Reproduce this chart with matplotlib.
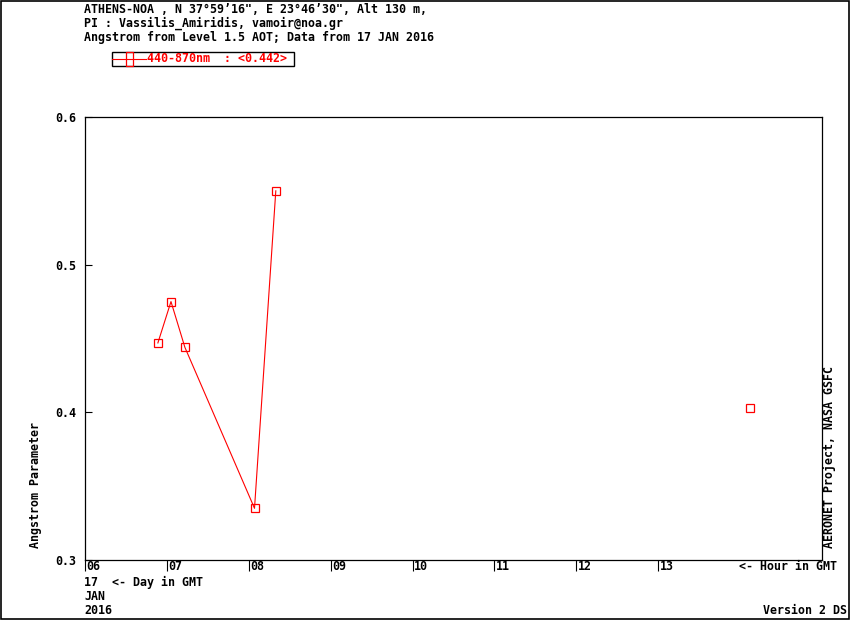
import matplotlib
matplotlib.use("Agg")
import matplotlib.pyplot as plt
import matplotlib.transforms as mtrans
from matplotlib.lines import Line2D
from matplotlib.patches import Rectangle

# ---- data ----
hours = [6.89, 7.05, 7.22, 8.07, 8.33, 14.12]
angstrom = [0.447, 0.475, 0.444, 0.335, 0.550, 0.403]
n_connected = 5  # first 5 points are joined by a line
hour_ticks = [6, 7, 8, 9, 10, 11, 12, 13]
hour_labels = ["06", "07", "08", "09", "10", "11", "12", "13"]
y_ticks = [0.3, 0.4, 0.5, 0.6]
y_labels = ["0.3", "0.4", "0.5", "0.6"]
header = ["ATHENS-NOA , N 37\u00b059\u201916\", E 23\u00b046\u201930\", Alt 130 m,",
          "PI : Vassilis_Amiridis, vamoir@noa.gr",
          "Angstrom from Level 1.5 AOT; Data from 17 JAN 2016"]
legend_text = "440-870nm  : <0.442>"

W, H = 850, 620
RED = "#ff0000"
FONT = dict(family="DejaVu Sans Mono", weight="bold", size=8.4)

def fx(x):
    return x / W

def fy(y):
    return 1 - y / H

fig = plt.figure(figsize=(8.5, 6.2), dpi=100)
ax = fig.add_axes([fx(85), fy(560), fx(822) - fx(85), fy(117) - fy(560)])

ax.plot(hours[:n_connected], angstrom[:n_connected], color=RED, lw=0.8)
ax.plot(hours, angstrom, ls="none", marker="s", ms=6, mfc="none",
        mec=RED, mew=0.9)

ax.set_xlim(6, 15)
ax.set_ylim(0.3, 0.6)
ax.set_xticks(hour_ticks)
ax.set_xticklabels(hour_labels, ha="left", **FONT)
ax.set_yticks(y_ticks)
ax.set_yticklabels(y_labels, **FONT)
ax.tick_params(axis="x", direction="out", length=8, width=0.8, pad=-8.0)
ax.tick_params(axis="y", direction="in", length=5, width=0.8, pad=6)
for s in ax.spines.values():
    s.set_linewidth(0.9)

offset = mtrans.ScaledTranslation(1.5 / 100, 0, fig.dpi_scale_trans)
for lab in ax.get_xticklabels():
    lab.set_transform(lab.get_transform() + offset)

# header
for i, line in enumerate(header):
    fig.text(fx(84), fy(9.5 + 14 * i), line, va="center", ha="left", **FONT)

# legend
fig.add_artist(Rectangle((fx(112), fy(65.5)), fx(294) - fx(112), fy(52) - fy(65.5),
                         transform=fig.transFigure, fill=False, ec="black", lw=1.0))
fig.add_artist(Line2D([fx(112), fx(146)], [fy(58.5), fy(58.5)], transform=fig.transFigure,
                      color=RED, lw=0.8))
fig.add_artist(Rectangle((fx(126), fy(65.5)), fx(133) - fx(126), fy(52) - fy(65.5),
                         transform=fig.transFigure, fill=False, ec=RED, lw=0.9))
fig.text(fx(147), fy(58.5), legend_text, color=RED, va="center", ha="left", **FONT)

# axis annotations
fig.text(fx(35), fy(548), "Angstrom Parameter", rotation=90, va="bottom", ha="center", **FONT)
fig.text(fx(830), fy(548), "AERONET Project, NASA GSFC", rotation=90, va="bottom",
         ha="center", **FONT)
fig.text(fx(84), fy(582), "17  <- Day in GMT", va="center", ha="left", **FONT)
fig.text(fx(84), fy(597), "JAN", va="center", ha="left", **FONT)
fig.text(fx(84), fy(611), "2016", va="center", ha="left", **FONT)
fig.text(fx(837), fy(567), "<- Hour in GMT", va="center", ha="right", **FONT)
fig.text(fx(847), fy(611), "Version 2 DS", va="center", ha="right", **FONT)

# figure border
fig.add_artist(Rectangle((0.0008, 0.0015), 0.9976, 0.997, transform=fig.transFigure,
                         fill=False, ec="black", lw=1.2))

fig.savefig("out.png", dpi=100)
